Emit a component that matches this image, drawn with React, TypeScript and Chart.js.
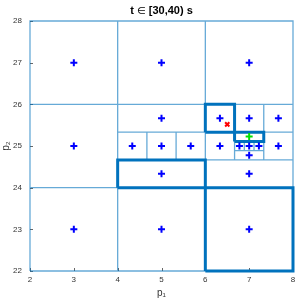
import React, { useEffect, useRef } from "react";
import { Chart, registerables } from "chart.js";

Chart.register(...registerables);

const titleParts = ["t ", "\u2208", " [30,40) s"];
const xLabel = "p\u2081";
const yLabel = "p\u2082";
const xLimits = [2, 8];
const yLimits = [22, 28];

// leaf cells [x0, x1, y0, y1]
const thinCells: number[][] = [
  [2, 4, 26, 28], [4, 6, 26, 28], [6, 8, 26, 28],
  [2, 4, 24, 26],
  [2, 4, 22, 24], [4, 6, 22, 24], [6, 8, 22, 24],
  [4, 6, 25.333, 26], [6, 6.667, 25.333, 26], [6.667, 7.333, 25.333, 26], [7.333, 8, 25.333, 26],
  [4, 4.667, 24.667, 25.333], [4.667, 5.333, 24.667, 25.333], [5.333, 6, 24.667, 25.333],
  [6, 6.667, 24.667, 25.333], [7.333, 8, 24.667, 25.333],
  [6.667, 7.333, 25.111, 25.333],
  [6.667, 6.889, 24.889, 25.111], [6.889, 7.111, 24.889, 25.111], [7.111, 7.333, 24.889, 25.111],
  [6.667, 7.333, 24.667, 24.889],
  [4, 6, 24, 24.667], [6, 8, 24, 24.667],
];

// highlighted cells
const boldCells: number[][] = [
  [6, 6.667, 25.333, 26],
  [6.667, 7.333, 25.111, 25.333],
  [4, 6, 24, 24.667],
  [6, 8, 22, 24],
];

const centerX = [3, 5, 7, 3, 3, 5, 7, 5, 6.333, 7, 7.667, 4.333, 5, 5.667, 6.333, 7.667, 6.778, 7, 7.222, 7, 5, 7];
const centerY = [27, 27, 27, 25, 23, 23, 23, 25.667, 25.667, 25.667, 25.667, 25, 25, 25, 25, 25, 25, 25, 25, 24.778, 24.333, 24.333];

const redX = [6.5];
const redY = [25.52];
const greenX = [7];
const greenY = [25.23];

function rectPath(cells: number[][]) {
  const pts: { x: number | null; y: number | null }[] = [];
  cells.forEach(([x0, x1, y0, y1]) => {
    pts.push({ x: x0, y: y0 }, { x: x1, y: y0 }, { x: x1, y: y1 }, { x: x0, y: y1 }, { x: x0, y: y0 });
    pts.push({ x: null, y: null });
  });
  return pts;
}

const FONT = "'Liberation Sans', Arial, Helvetica, sans-serif";

const decorPlugin = {
  id: "decor",
  beforeDatasetsDraw(chart: any) {
    const { ctx, chartArea, scales } = chart;
    ctx.save();
    ctx.strokeStyle = "#666";
    ctx.lineWidth = 1;
    scales.x.ticks.forEach((t: any) => {
      const px = Math.round(scales.x.getPixelForValue(t.value)) + 0.5;
      ctx.beginPath();
      ctx.moveTo(px, chartArea.bottom);
      ctx.lineTo(px, chartArea.bottom - 3);
      ctx.stroke();
    });
    scales.y.ticks.forEach((t: any) => {
      const py = Math.round(scales.y.getPixelForValue(t.value)) + 0.5;
      ctx.beginPath();
      ctx.moveTo(chartArea.left, py);
      ctx.lineTo(chartArea.left + 3, py);
      ctx.stroke();
    });
    ctx.restore();
  },
  afterDraw(chart: any) {
    const { ctx, chartArea } = chart;
    ctx.save();
    ctx.fillStyle = "#000";
    ctx.textBaseline = "middle";
    ctx.textAlign = "left";
    const fonts = [`bold 11px ${FONT}`, `10px 'DejaVu Sans', ${FONT}`, `bold 11px ${FONT}`];
    const widths = titleParts.map((p, i) => {
      ctx.font = fonts[i];
      return ctx.measureText(p).width;
    });
    const total = widths.reduce((a, b) => a + b, 0);
    let x = (chartArea.left + chartArea.right) / 2 - total / 2;
    titleParts.forEach((p, i) => {
      ctx.font = fonts[i];
      ctx.fillText(p, x, 11);
      x += widths[i];
    });
    ctx.restore();
  },
};

export default function App() {
  const ref = useRef<HTMLCanvasElement>(null);
  useEffect(() => {
    if (!ref.current) return;
    const chart = new Chart(ref.current, {
      type: "scatter",
      data: {
        datasets: [
          {
            label: "green",
            data: greenX.map((x, i) => ({ x, y: greenY[i] })),
            pointStyle: "cross",
            pointRadius: 3.5,
            borderColor: "#00e000",
            backgroundColor: "#00e000",
            pointBorderWidth: 2,
            order: 0,
          } as any,
          {
            label: "red",
            data: redX.map((x, i) => ({ x, y: redY[i] })),
            pointStyle: "crossRot",
            pointRadius: 3,
            borderColor: "#ff0000",
            backgroundColor: "#ff0000",
            pointBorderWidth: 2,
            order: 1,
          },
          {
            label: "centers",
            data: centerX.map((x, i) => ({ x, y: centerY[i] })),
            pointStyle: "cross",
            pointRadius: 3.5,
            borderColor: "#0000ff",
            backgroundColor: "#0000ff",
            pointBorderWidth: 2,
            order: 2,
          },
          {
            label: "bold",
            data: rectPath(boldCells),
            showLine: true,
            spanGaps: false,
            pointRadius: 0,
            borderColor: "#0072BD",
            borderWidth: 3,
            borderJoinStyle: "miter",
            fill: false,
            clip: false,
            order: 3,
          } as any,
          {
            label: "thin",
            data: rectPath(thinCells),
            showLine: true,
            spanGaps: false,
            pointRadius: 0,
            borderColor: "rgba(0,114,189,0.6)",
            borderWidth: 1.3,
            fill: false,
            clip: false,
            order: 4,
          } as any,
        ],
      },
      options: {
        animation: false,
        responsive: false,
        maintainAspectRatio: false,
        layout: { padding: { top: 21, right: 7, left: 0, bottom: 0 } },
        plugins: {
          legend: { display: false },
          title: { display: false },
          tooltip: { enabled: false },
        },
        scales: {
          x: {
            type: "linear",
            min: xLimits[0],
            max: xLimits[1],
            border: { display: false },
            grid: { display: false, drawTicks: false },
            ticks: {
              stepSize: 1,
              padding: 4,
              color: "#333",
              font: { size: 8, family: FONT },
              maxRotation: 0,
            },
            title: {
              display: true,
              text: xLabel,
              color: "#333",
              font: { size: 10, family: FONT },
              padding: { top: 0, bottom: 1 },
            },
            afterFit(scale: any) {
              scale.height = 29;
            },
          },
          y: {
            type: "linear",
            min: yLimits[0],
            max: yLimits[1],
            border: { display: false },
            grid: { display: false, drawTicks: false },
            ticks: {
              stepSize: 1,
              padding: 8,
              color: "#333",
              font: { size: 8, family: FONT },
            },
            title: {
              display: true,
              text: yLabel,
              color: "#333",
              font: { size: 10, family: FONT },
              padding: { top: 0, bottom: 0 },
            },
            afterFit(scale: any) {
              scale.width = 30;
            },
          },
        },
      },
      plugins: [decorPlugin],
    });
    return () => chart.destroy();
  }, []);
  return (
    <div style={{ position: "fixed", left: 0, top: 0, width: 300, height: 300, background: "#fff" }}>
      <canvas ref={ref} width={300} height={300} style={{ width: 300, height: 300 }} />
    </div>
  );
}
